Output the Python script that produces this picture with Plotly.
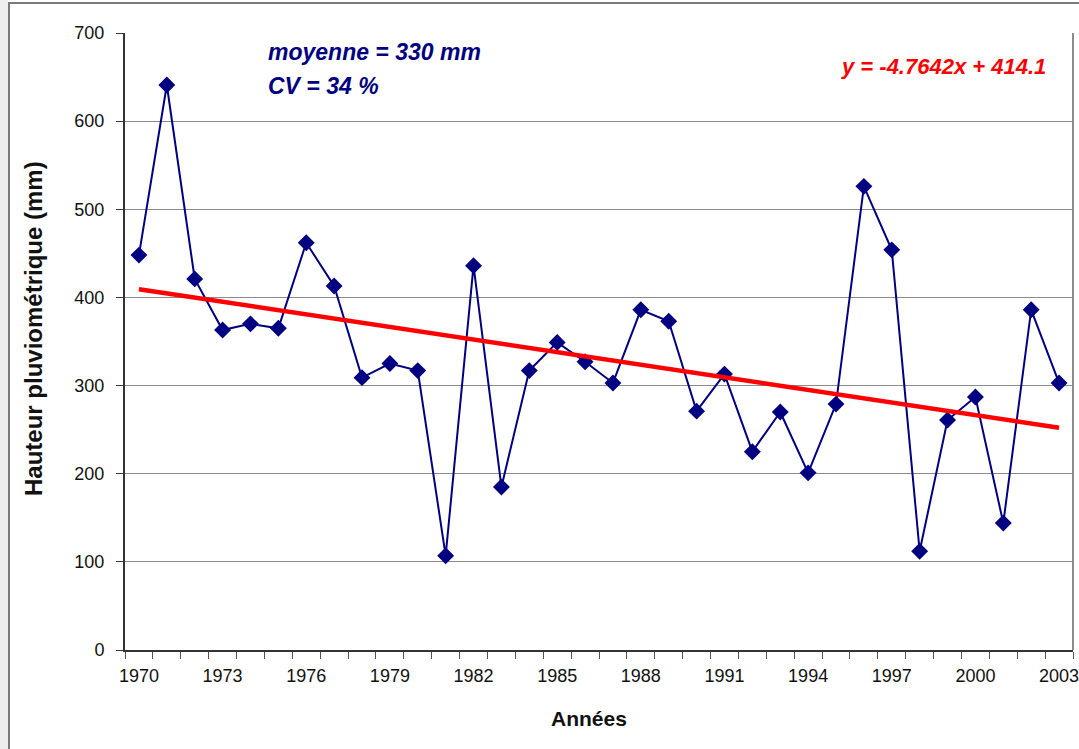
import plotly.graph_objects as go

# Annual rainfall series (mm)
years = list(range(1970, 2004))
rainfall = [448, 641, 421, 363, 370, 365, 462, 413, 309, 325,
            317, 107, 436, 185, 317, 349, 327, 303, 386, 373,
            271, 313, 225, 270, 201, 279, 526, 454, 112, 261,
            287, 144, 386, 303]

# Linear trend as reported (x = rank of the year, 1..n)
slope = -4.7642
intercept = 414.1
trend_x = [years[0], years[-1]]
trend_y = [slope * 1 + intercept, slope * len(years) + intercept]

tick_years = years[::3]
tick_text = [str(y) for y in tick_years]

W, H = 1079, 749
L, R, T, B = 125, 1073, 33, 650   # plot area in pixels


def px(x):
    return (x - L) / (R - L)


def py(y):
    return (B - y) / (B - T)


FONT = "Liberation Sans, Arial, sans-serif"
NAVY = "#000080"

fig = go.Figure()
fig.add_trace(go.Scatter(
    x=years, y=rainfall, mode="lines+markers",
    line=dict(color=NAVY, width=2),
    marker=dict(symbol="diamond", size=13, color=NAVY),
    showlegend=False, hoverinfo="x+y",
))
fig.add_trace(go.Scatter(
    x=trend_x, y=trend_y, mode="lines",
    line=dict(color="#ff0000", width=4.5),
    showlegend=False, hoverinfo="skip",
))

fig.update_layout(
    width=W, height=H,
    margin=dict(l=L, r=W - R, t=T, b=H - B, pad=0, autoexpand=False),
    paper_bgcolor="white", plot_bgcolor="white",
    font=dict(family=FONT, color="#111111"),
    xaxis=dict(
        range=[1969.5, 2003.5], tickmode="array",
        tickvals=tick_years, ticktext=tick_text,
        ticks="", tickfont=dict(size=18, family=FONT, color="#111111"),
        ticklabeloverflow="allow", automargin=False,
        showgrid=False, zeroline=False,
        showline=True, linecolor="#333333", linewidth=2,
        minor=dict(ticks="outside", tick0=1969.5, dtick=1, ticklen=7,
                   tickcolor="#555555", tickwidth=1, showgrid=False),
        ticklabelstandoff=8,
    ),
    yaxis=dict(
        range=[0, 700], tickmode="linear", tick0=0, dtick=100,
        ticks="outside", ticklen=7, tickcolor="#333333",
        tickfont=dict(size=18, family=FONT, color="#111111"),
        automargin=False,
        showgrid=True, gridcolor="#8c8c8c", gridwidth=1.2,
        zeroline=False,
        showline=True, linecolor="#333333", linewidth=2,
        ticklabelstandoff=8,
    ),
    shapes=[
        # right edge of the plot area frame
        dict(type="line", xref="paper", yref="paper", x0=1, x1=1, y0=0, y1=1,
             line=dict(color="#8c8c8c", width=2), layer="above"),
        # textured strip at the far left
        dict(type="rect", xref="paper", yref="paper",
             x0=px(0), x1=px(8), y0=py(H + 5), y1=py(-5),
             fillcolor="#eeeeee", line=dict(width=0), layer="below"),
        # outer chart frame
        dict(type="rect", xref="paper", yref="paper",
             x0=px(9), x1=px(W + 10), y0=py(H + 10), y1=py(3),
             line=dict(color="#7a7a7a", width=2), layer="below"),
    ],
    annotations=[
        dict(text="<b><i>moyenne = 330 mm</i></b>", xref="paper", yref="paper",
             x=px(266), y=py(52), xanchor="left", yanchor="middle",
             showarrow=False, font=dict(size=23, color=NAVY, family=FONT)),
        dict(text="<b><i>CV = 34 %</i></b>", xref="paper", yref="paper",
             x=px(266), y=py(86), xanchor="left", yanchor="middle",
             showarrow=False, font=dict(size=23, color=NAVY, family=FONT)),
        dict(text="<b><i>y = -4.7642x + 414.1</i></b>", xref="paper", yref="paper",
             x=px(1048), y=py(67), xanchor="right", yanchor="middle",
             showarrow=False, font=dict(size=22, color="#ff0000", family=FONT)),
        dict(text="<b>Hauteur pluviométrique (mm)</b>", xref="paper", yref="paper",
             x=px(33), y=py(329), xanchor="center", yanchor="middle",
             textangle=-90, showarrow=False,
             font=dict(size=24, color="#111111", family=FONT)),
        dict(text="<b>Années</b>", xref="paper", yref="paper",
             x=px(589), y=py(718), xanchor="center", yanchor="middle",
             showarrow=False, font=dict(size=21, color="#111111", family=FONT)),
    ],
)

fig.write_html("out.html")
